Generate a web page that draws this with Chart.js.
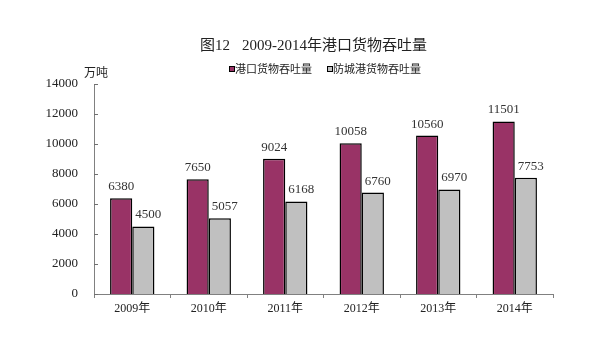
<!DOCTYPE html>
<html>
<head>
<meta charset="utf-8">
<script src="https://cdn.jsdelivr.net/npm/chart.js@4"></script>
<style>
  html, body { margin: 0; padding: 0; background: #fff; }
  #wrap { width: 601px; height: 340px; }
</style>
</head>
<body>
<div id="wrap"><canvas id="c" width="601" height="340"></canvas></div>
<script>
const years = ['2009年', '2010年', '2011年', '2012年', '2013年', '2014年'];
const portThroughput = [6380, 7650, 9024, 10058, 10560, 11501];
const fangchenggangThroughput = [4500, 5057, 6168, 6760, 6970, 7753];
const seriesNames = ['港口货物吞吐量', '防城港货物吞吐量'];
const yTicks = [0, 2000, 4000, 6000, 8000, 10000, 12000, 14000];

const serif = '"Liberation Serif", "Noto Sans CJK SC", serif';
const colors = ['#993366', '#c0c0c0'];

// Title, legend, unit, inward y tick marks and value labels
const decorations = {
  id: 'decorations',
  afterDatasetsDraw(chart) {
    const ctx = chart.ctx;
    const ys = chart.scales.y;
    const axisX = chart.chartArea.left;
    ctx.save();

    // y tick marks pointing into the plot
    ctx.strokeStyle = '#707070';
    ctx.lineWidth = 1;
    ys.ticks.forEach(t => {
      const py = Math.round(ys.getPixelForValue(t.value)) + 0.5;
      ctx.beginPath();
      ctx.moveTo(axisX, py);
      ctx.lineTo(axisX + 4, py);
      ctx.stroke();
    });

    ctx.fillStyle = '#222';
    ctx.textBaseline = 'middle';
    ctx.font = '15px ' + serif;
    ctx.textAlign = 'left';
    ctx.fillText('图12', 200, 46);
    ctx.fillText('2009-2014年港口货物吞吐量', 242, 46);

    // legend
    ctx.font = '11px ' + serif;
    const items = [[229, 0], [327, 1]];
    items.forEach(([x, i]) => {
      ctx.fillStyle = colors[i];
      ctx.fillRect(x, 66, 6, 6);
      ctx.strokeStyle = '#000';
      ctx.lineWidth = 1;
      ctx.strokeRect(x + 0.5, 66.5, 5, 5);
      ctx.fillStyle = '#222';
      ctx.fillText(seriesNames[i], x + 6, 70);
    });

    // unit
    ctx.font = '12px ' + serif;
    ctx.fillText('万吨', 84, 74);

    // value labels (second series nudged right)
    ctx.font = '13px ' + serif;
    ctx.textAlign = 'center';
    ctx.textBaseline = 'bottom';
    ctx.fillStyle = '#333';
    chart.data.datasets.forEach((ds, di) => {
      const dx = di === 1 ? 5 : 0;
      chart.getDatasetMeta(di).data.forEach((bar, i) => {
        ctx.fillText(String(ds.data[i]), bar.x + dx, bar.y - 5);
      });
    });
    ctx.restore();
  }
};

new Chart(document.getElementById('c'), {
  type: 'bar',
  data: {
    labels: years,
    datasets: [
      { label: seriesNames[0], data: portThroughput, backgroundColor: colors[0], borderColor: '#000', borderWidth: 1.5 },
      { label: seriesNames[1], data: fangchenggangThroughput, backgroundColor: colors[1], borderColor: '#000', borderWidth: 1.5 }
    ]
  },
  options: {
    responsive: false,
    animation: false,
    devicePixelRatio: 1,
    layout: { padding: { top: 84, right: 48, left: 0, bottom: 0 } },
    datasets: { bar: { categoryPercentage: 0.58, barPercentage: 1.0 } },
    plugins: { legend: { display: false }, title: { display: false }, tooltip: { enabled: false } },
    scales: {
      x: {
        afterFit: s => { s.height = 46; },
        grid: { display: true, drawOnChartArea: false, offset: true, tickLength: 4, color: '#808080' },
        border: { color: '#808080', width: 1 },
        ticks: { color: '#222', font: { size: 12, family: serif }, padding: 4 }
      },
      y: {
        min: 0, max: 14000,
        afterBuildTicks: s => { s.ticks = yTicks.map(v => ({ value: v })); },
        afterFit: s => { s.width = 94; },
        grid: { display: false },
        border: { display: true, color: '#808080', width: 1 },
        ticks: { color: '#222', font: { size: 13, family: serif }, padding: 8, callback: v => String(v) }
      }
    }
  },
  plugins: [decorations]
});
</script>
</body>
</html>
